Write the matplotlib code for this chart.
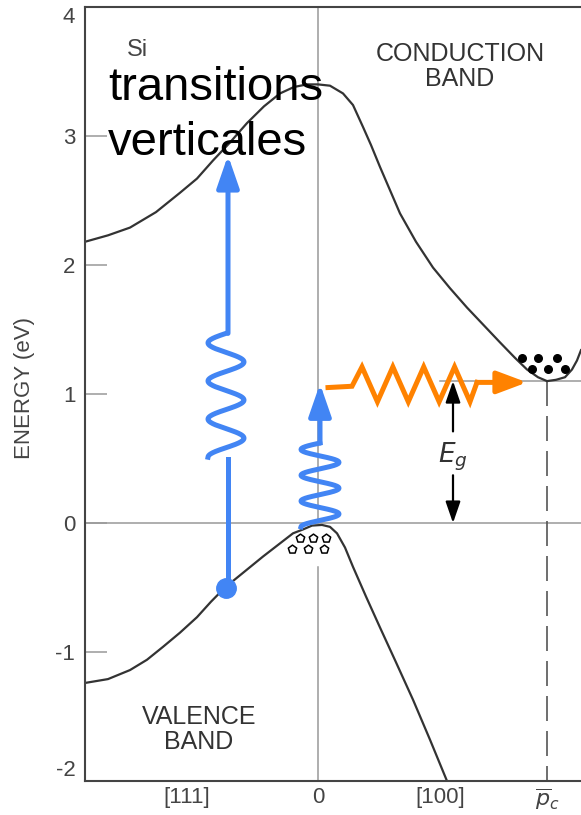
import numpy as np
import matplotlib
matplotlib.use("Agg")
import matplotlib.pyplot as plt

plt.rcParams['font.family'] = ['Liberation Sans', 'DejaVu Sans']
plt.rcParams['axes.unicode_minus'] = False

# band curves (k in arbitrary units, energy in eV)
k_cond = [-2.33, -2.10, -1.88, -1.62, -1.38, -1.21, -1.05, -0.88, -0.71, -0.54, -0.38, -0.24,
          -0.11, 0.00, 0.12, 0.25, 0.35, 0.45, 0.53, 0.62, 0.82, 0.98, 1.15, 1.32, 1.49,
          1.82, 1.97, 2.09, 2.20, 2.29, 2.38, 2.47, 2.54, 2.59, 2.63]
e_cond = [2.18, 2.23, 2.29, 2.41, 2.56, 2.67, 2.81, 2.95, 3.10, 3.23, 3.33, 3.38,
          3.40, 3.40, 3.39, 3.33, 3.24, 3.07, 2.93, 2.76, 2.40, 2.18, 1.98, 1.82, 1.67,
          1.40, 1.28, 1.19, 1.13, 1.10, 1.11, 1.13, 1.19, 1.26, 1.34]
k_val = [-2.33, -2.10, -1.88, -1.71, -1.55, -1.38, -1.21, -1.07, -0.93, -0.74, -0.55, -0.40,
         -0.25, -0.15, -0.06, 0.04, 0.12, 0.19, 0.27, 0.35, 0.48, 0.62, 0.78, 0.95, 1.12, 1.29]
e_val = [-1.24, -1.21, -1.14, -1.06, -0.96, -0.85, -0.73, -0.61, -0.50, -0.38, -0.26, -0.17,
         -0.08, -0.05, -0.02, -0.015, -0.03, -0.08, -0.19, -0.34, -0.57, -0.81, -1.08, -1.37,
         -1.68, -2.0]

eg = 1.1
k_min = 2.29

# electrons / holes
k_elec = [2.04, 2.20, 2.39, 2.14, 2.30, 2.47]
e_elec = [1.28, 1.28, 1.28, 1.19, 1.19, 1.19]
k_hole = [-0.18, -0.05, 0.08, -0.26, -0.10, 0.06]
e_hole = [-0.12, -0.12, -0.12, -0.20, -0.20, -0.20]

x_ticks = [-1.31, 0, 1.22, 2.29]
x_labels = ['[111]', '0', '[100]', r'$\overline{p}_c$']
y_ticks = [-2, -1, 0, 1, 2, 3, 4]

blue = '#4285F4'
orange = '#FF8200'
curve_col = '#333333'
grey = '#999999'

fig = plt.figure(figsize=(5.81, 8.15), dpi=100)
ax = fig.add_axes([85 / 581, 1 - 781 / 815, 1 - 85 / 581, 774 / 815])
ax.set_xlim(-2.33, 2.63)
ax.set_ylim(-2, 4)

# reference lines
ax.axhline(0, color=grey, lw=1.1, zorder=1)
ax.plot([0, 0], [0, 4], color=grey, lw=1.1, zorder=1)
ax.plot([0, 0], [-0.34, -2], color=grey, lw=1.1, zorder=1)
ax.plot([1.22, 2.63], [eg, eg], color=grey, lw=1.1, zorder=1)
ax.plot([k_min, k_min], [eg, -2], color='#555555', lw=1.2, dashes=(15, 6), zorder=1)

# bands
ax.plot(k_cond, e_cond, color=curve_col, lw=1.6, zorder=2, solid_joinstyle='round')
ax.plot(k_val, e_val, color=curve_col, lw=1.6, zorder=2, solid_joinstyle='round')

ax.scatter(k_elec, e_elec, s=30, marker='o', color='black', zorder=3)
ax.scatter(k_hole, e_hole, s=40, marker='p', facecolor='white', edgecolor='black', lw=1.1, zorder=3)

# texts
ax.text(-1.91, 3.67, 'Si', fontsize=17, color='#444444', ha='left', va='center')
ax.text(-2.10, 3.28, 'transitions', fontsize=34, color='black', ha='left', va='baseline', zorder=4)
ax.text(-2.10, 2.85, 'verticales', fontsize=34, color='black', ha='left', va='baseline', zorder=4)
ax.text(1.42, 3.54, 'CONDUCTION\nBAND', fontsize=18, color='#333333', ha='center', va='center',
        linespacing=1.05)
ax.text(-1.19, -1.60, 'VALENCE\nBAND', fontsize=18, color='#333333', ha='center', va='center',
        linespacing=1.05)
ax.text(1.35, 0.51, r'$E_g$', fontsize=19, color='#333333', ha='center', va='center')


def squiggle(kc, e0, e1, amp, cycles):
    t = np.linspace(0, 1, 300)
    kk = kc + amp * np.sin(2 * np.pi * cycles * t - np.pi / 2)
    ee = e0 + (e1 - e0) * t
    return kk, ee


def arrow(x0, y0, x1, y1, color, lw, hl, hw, ms):
    ax.annotate('', xy=(x1, y1), xytext=(x0, y0),
                arrowprops=dict(arrowstyle='-|>,head_length=%s,head_width=%s' % (hl, hw),
                                color=color, lw=lw, shrinkA=0, shrinkB=0, mutation_scale=ms),
                zorder=5)


# first photon: vertical transition
ax.plot([-0.90, -0.90], [-0.50, 0.50], color=blue, lw=3.6, zorder=5)
kk, ee = squiggle(-0.92, 0.51, 1.47, 0.18, 3.25)
ax.plot(kk, ee, color=blue, lw=3.6, zorder=5)
arrow(-0.90, 1.47, -0.90, 2.85, blue, 3.6, 1.3, 0.45, 15)
ax.plot([-0.92], [-0.50], 'o', color=blue, ms=14, zorder=6)

# second photon at k=0
kk, ee = squiggle(0.02, -0.03, 0.62, 0.19, 3.25)
ax.plot(kk, ee, color=blue, lw=3.6, zorder=5)
arrow(0.02, 0.62, 0.02, 1.08, blue, 3.6, 1.3, 0.45, 15)

# phonon (orange zigzag)
zig_k = np.linspace(0.44, 1.52, 8)
zig_e = np.where(np.arange(8) % 2 == 0, 1.21, 0.94)
ax.plot(np.r_[0.10, 0.34, zig_k, 1.59], np.r_[1.05, 1.06, zig_e, 1.09],
        color=orange, lw=3.6, zorder=5, solid_joinstyle='miter')
arrow(1.59, 1.09, 2.09, 1.09, orange, 3.6, 1.2, 0.45, 15)

# Eg arrows
arrow(1.35, 0.71, 1.35, eg, 'black', 1.6, 1.3, 0.45, 10)
arrow(1.35, 0.37, 1.35, 0.0, 'black', 1.6, 1.3, 0.45, 10)

# axes styling
for s in ['left', 'top', 'bottom']:
    ax.spines[s].set_color('#444444')
    ax.spines[s].set_linewidth(1.5)
ax.spines['right'].set_visible(False)

ax.set_yticks(y_ticks)
ax.set_yticklabels([str(v) for v in y_ticks])
ax.tick_params(axis='y', direction='in', length=16, width=1.1, color=grey,
               labelsize=16, labelcolor='#444444', pad=7)
labs = ax.get_yticklabels()
labs[0].set_va('bottom')
labs[-1].set_va('top')

ax.set_xticks(x_ticks)
ax.set_xticklabels(x_labels)
ax.tick_params(axis='x', length=0, labelsize=16, labelcolor='#444444', pad=4)

ax.set_ylabel('ENERGY (eV)', fontsize=16, color='#444444')
ax.yaxis.set_label_coords(-0.10, 0.508)

fig.savefig('out.png', dpi=100)
